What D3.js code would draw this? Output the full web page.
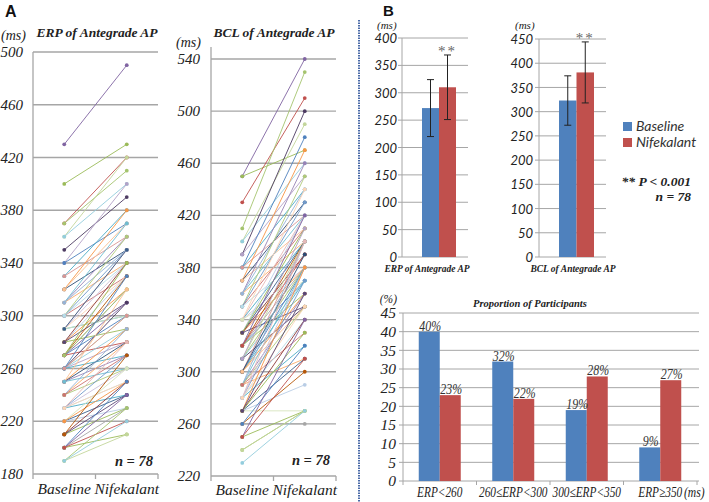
<!DOCTYPE html>
<html><head><meta charset="utf-8">
<script src="https://cdn.jsdelivr.net/npm/d3@7"></script>
<style>
body{margin:0;background:#fff;}
svg{display:block;}
</style></head>
<body>
<script>
// ---------- DATA ----------
const groups = ["Baseline", "Nifekalant"];
const erpTicks = [180, 220, 260, 300, 340, 380, 420, 460, 500];
const bclTicks = [220, 260, 300, 340, 380, 420, 460, 500, 540];
const erpBase = [430,400,370,370,360,360,350,340,340,330,330,320,320,320,310,310,310,310,300,300,300,300,290,290,290,290,290,290,280,280,280,280,280,270,270,270,270,270,270,270,260,260,260,260,260,260,260,250,250,250,250,250,240,240,240,240,230,230,230,230,230,230,220,220,220,220,210,210,210,210,200,200,200,200,200,190,190,190];
const erpNife = [490,430,420,410,420,400,390,400,370,380,360,380,350,370,360,370,340,350,360,330,350,340,350,300,340,330,300,350,330,320,340,290,310,330,320,300,310,340,280,320,300,290,310,280,330,270,300,290,280,320,270,260,280,290,260,270,270,250,280,240,260,250,260,240,230,250,250,230,240,270,230,250,240,210,220,230,210,220];
const bclBase = [450,450,430,410,400,400,390,390,380,380,380,370,370,370,360,360,360,360,350,350,350,350,340,340,340,340,340,330,330,330,330,330,330,320,320,320,320,320,320,310,310,310,310,310,300,300,300,300,300,300,290,290,290,290,290,290,280,280,280,280,280,280,270,270,270,270,270,270,270,260,260,260,250,250,250,240,240,230];
const bclNife = [540,470,510,530,490,460,500,450,480,440,420,470,430,410,460,420,400,440,450,410,430,390,420,400,380,440,370,400,420,380,390,410,350,400,380,370,420,360,390,380,400,370,350,410,380,370,400,360,390,350,360,380,310,400,350,330,370,340,400,320,380,350,270,310,290,380,340,330,360,300,260,320,340,270,310,270,270,270];
const meanTitles = ["ERP of Antegrade AP", "BCL of Antegrade AP"];
const erpMeans = [272, 310];
const erpErr = [52, 59];
const bclMeans = [323, 381];
const bclErr = [51, 63];
const erpBarTicks = [0,50,100,150,200,250,300,350,400];
const bclBarTicks = [0,50,100,150,200,250,300,350,400,450];
const propCats = ["ERP<260", "260≤ERP<300", "300≤ERP<350", "ERP≥350"];
const propBase = [40, 32, 19, 9];
const propNife = [23, 22, 28, 27];
const propTicks = [0,5,10,15,20,25,30,35,40,45];

// ---------- STYLE ----------
const SERIF = '"Liberation Serif","Times New Roman","DejaVu Serif",serif';
const SANS = 'Lato,"Open Sans",sans-serif';
const BLUE = "#4F81BD", RED = "#C0504D";
const palette = ["#8064A2","#9BBB59","#C0504D","#A5C46E","#C3D69B","#93CDDD","#4D3B62","#B3A2C7","#4F81BD","#4BACC6","#D99694","#F79646","#2C4D75","#FAC090","#9983B5","#6FBDD1","#F9AB6B","#95B3D7","#AFC97A","#CD7371","#729ACA","#B7DDE8","#E6B9B8","#4BACC6","#CCC1DA","#FCD5B5","#D7E4BD","#3A5F8B","#B9CDE5","#F79646","#8C3836","#9BBB59","#5B4775","#B65708","#A6A6A6","#4F81BD"];

const W = 709, H = 502;
const svg = d3.select("body").append("svg").attr("width", W).attr("height", H);
const GRID = "#a6a6a6";

function txt(g, x, y, s, o = {}) {
  const t = g.append("text")
    .attr("text-anchor", o.anchor || "start")
    .style("font-family", o.font || SERIF)
    .style("font-style", o.italic === false ? "normal" : "italic")
    .style("font-weight", o.bold ? "bold" : "normal")
    .style("font-size", (o.size || 14) + "px")
    .attr("fill", o.fill || "#222").text(s);
  if (o.sx) t.attr("transform", `translate(${x},${y}) scale(${o.sx},1)`);
  else t.attr("x", x).attr("y", y);
  return t;
}

// ---------- Panel A ----------
function spaghetti(opt) {
  const g = svg.append("g");
  const y = d3.scaleLinear().domain(opt.domain).range(opt.yRange);
  const x = d3.scaleBand().domain(groups).range([opt.x0, opt.x1]);
  const cx = d => x(d) + x.bandwidth() / 2;
  g.selectAll("line.grid").data(opt.ticks.slice(1)).join("line")
    .attr("x1", opt.x0).attr("x2", opt.x1)
    .attr("y1", d => y(d)).attr("y2", d => y(d))
    .attr("stroke", GRID).attr("stroke-width", 1.3);
  g.append("line").attr("x1", opt.x0).attr("x2", opt.x0)
    .attr("y1", opt.axisTop).attr("y2", y(opt.domain[0]))
    .attr("stroke", GRID).attr("stroke-width", 1.3);
  g.append("line").attr("x1", opt.x0).attr("x2", opt.x1)
    .attr("y1", y(opt.domain[0])).attr("y2", y(opt.domain[0]))
    .attr("stroke", GRID).attr("stroke-width", 1.3);
  const bnd = [opt.x0, opt.x0 + x.bandwidth(), opt.x1];
  g.selectAll("line.tk").data(bnd).join("line")
    .attr("x1", d => d).attr("x2", d => d)
    .attr("y1", y(opt.domain[0])).attr("y2", y(opt.domain[0]) + 5)
    .attr("stroke", GRID).attr("stroke-width", 1.3);
  const ax = d3.axisLeft(y).tickValues(opt.ticks).tickSize(0).tickPadding(opt.pad);
  const axg = g.append("g").attr("transform", `translate(${opt.x0},0)`).call(ax);
  axg.attr("font-family", null).attr("font-size", null);
  axg.select(".domain").remove();
  axg.selectAll("text").style("font-family", SERIF).style("font-style", "italic")
    .style("font-size", "15px").attr("fill", "#222").attr("dy", "0.3em");
  groups.forEach(k => txt(g, cx(k), opt.xlabY, k, {anchor: "middle", size: 15.5}));
  const pairs = opt.base.map((b, i) => ({b, n: opt.nife[i], c: palette[i % palette.length]}));
  g.selectAll("line.p").data(pairs).join("line")
    .attr("x1", cx(groups[0])).attr("x2", cx(groups[1]))
    .attr("y1", d => y(d.b)).attr("y2", d => y(d.n))
    .attr("stroke", d => d.c).attr("stroke-width", 0.9);
  g.selectAll("circle.b").data(pairs).join("circle")
    .attr("cx", cx(groups[0])).attr("cy", d => y(d.b)).attr("r", 1.9).attr("fill", d => d.c);
  g.selectAll("circle.n").data(pairs).join("circle")
    .attr("cx", cx(groups[1])).attr("cy", d => y(d.n)).attr("r", 1.9).attr("fill", d => d.c);
  txt(g, opt.titleX, opt.titleY, opt.title, {anchor: "middle", bold: true, size: 13.5});
  txt(g, opt.msX, opt.msY, "(ms)", {size: 14});
  txt(g, opt.nX, opt.nY, "n = 78", {anchor: "end", bold: true, size: 14.5});
}

spaghetti({domain:[180,500], yRange:[474,52], ticks: erpTicks, x0:33, x1:158, axisTop:52, pad:10,
  base: erpBase, nife: erpNife, xlabY: 494, title: meanTitles[0], titleX: 97, titleY: 37,
  msX: 1, msY: 40, nX: 153, nY: 466});
spaghetti({domain:[220,540], yRange:[476,59], ticks: bclTicks, x0:211, x1:336, axisTop:47, pad:11,
  base: bclBase, nife: bclNife, xlabY: 495, title: meanTitles[1], titleX: 274, titleY: 37,
  msX: 176, msY: 47, nX: 330, nY: 465});

txt(svg, 5, 17, "A", {font: "Liberation Sans, Arial, sans-serif", italic: false, bold: true, size: 16, fill: "#111"});
txt(svg, 383, 16, "B", {font: "Liberation Sans, Arial, sans-serif", italic: false, bold: true, size: 15, fill: "#111"});

svg.append("line").attr("x1", 359).attr("x2", 359).attr("y1", 20).attr("y2", 502)
  .attr("stroke", "#4a6aa8").attr("stroke-width", 2).attr("stroke-dasharray", "1.5,1");

// ---------- Panel B top ----------
function meanBars(opt) {
  const g = svg.append("g");
  const y = d3.scaleLinear().domain([0, opt.max]).range([257, opt.top]);
  const x = d3.scaleBand().domain(groups).range([opt.b0, opt.b1]);
  g.selectAll("line.grid").data(opt.ticks.slice(1)).join("line")
    .attr("x1", opt.x0).attr("x2", opt.x1).attr("y1", d => y(d)).attr("y2", d => y(d))
    .attr("stroke", GRID).attr("stroke-width", 1);
  g.append("line").attr("x1", opt.x0).attr("x2", opt.x0).attr("y1", y(opt.max)).attr("y2", y(0))
    .attr("stroke", GRID);
  g.append("line").attr("x1", opt.x0).attr("x2", opt.x1).attr("y1", y(0)).attr("y2", y(0))
    .attr("stroke", GRID);
  g.selectAll("line.tk").data(opt.ticks).join("line")
    .attr("x1", opt.x0 - 4).attr("x2", opt.x0).attr("y1", d => y(d)).attr("y2", d => y(d))
    .attr("stroke", GRID);
  const ax = d3.axisLeft(y).tickValues(opt.ticks).tickSize(0).tickPadding(opt.pad);
  const axg = g.append("g").attr("transform", `translate(${opt.x0},0)`).call(ax);
  axg.attr("font-family", null).attr("font-size", null);
  axg.select(".domain").remove();
  axg.selectAll("text").style("font-family", SANS).style("font-style", "italic")
    .style("font-size", "13px").attr("fill", "#222").attr("dy", "0.35em");
  const data = groups.map((k, i) => ({k, m: opt.means[i], e: opt.err[i], c: i ? RED : BLUE}));
  g.selectAll("rect").data(data).join("rect")
    .attr("x", d => x(d.k)).attr("width", x.bandwidth())
    .attr("y", d => y(d.m)).attr("height", d => y(0) - y(d.m)).attr("fill", d => d.c);
  const cx = d => x(d.k) + x.bandwidth() / 2;
  data.forEach(d => {
    g.append("line").attr("x1", cx(d)).attr("x2", cx(d)).attr("y1", y(d.m - d.e)).attr("y2", y(d.m + d.e))
      .attr("stroke", "#222").attr("stroke-width", 1);
    [d.m - d.e, d.m + d.e].forEach(v => g.append("line").attr("x1", cx(d) - 3.5).attr("x2", cx(d) + 3.5)
      .attr("y1", y(v)).attr("y2", y(v)).attr("stroke", "#222").attr("stroke-width", 1));
  });
  txt(g, cx(data[1]), y(data[1].m + data[1].e) + 1, "**", {anchor: "middle", italic: false, size: 15, fill: "#666"})
    .style("letter-spacing", "2px");
  txt(g, opt.msX, 29, "(ms)", {size: 11});
  txt(g, opt.labX, 272, opt.label, {anchor: "middle", bold: true, size: 9.5});
}
meanBars({max: 400, top: 38, ticks: erpBarTicks, x0: 402, x1: 468, b0: 422, b1: 456, pad: 5,
  means: erpMeans, err: erpErr, msX: 377, labX: 427, label: meanTitles[0]});
meanBars({max: 450, top: 39, ticks: bclBarTicks, x0: 539, x1: 606, b0: 559, b1: 594, pad: 6,
  means: bclMeans, err: bclErr, msX: 515, labX: 573, label: meanTitles[1]});

const leg = svg.append("g");
groups.forEach((k, i) => {
  leg.append("rect").attr("x", 623).attr("y", 122 + i * 16).attr("width", 9).attr("height", 9)
    .attr("fill", i ? RED : BLUE);
  txt(leg, 636, 131 + i * 16, k, {font: SANS, size: 14, fill: "#333"});
});
txt(leg, 691, 186, "** P < 0.001", {anchor: "end", bold: true, size: 13.5});
txt(leg, 691, 201, "n = 78", {anchor: "end", bold: true, size: 13.5});

// ---------- Panel B bottom ----------
(function () {
  const g = svg.append("g");
  const y = d3.scaleLinear().domain([0, 45]).range([481, 313]);
  const x = d3.scaleBand().domain(propCats).range([403, 697]);
  const xi = d3.scaleBand().domain(groups).range([0, 42]);
  const off = (x.bandwidth() - 42) / 2;
  g.selectAll("line.grid").data(propTicks.slice(1)).join("line")
    .attr("x1", 403).attr("x2", 699).attr("y1", d => y(d)).attr("y2", d => y(d))
    .attr("stroke", GRID);
  g.append("line").attr("x1", 403).attr("x2", 403).attr("y1", y(45)).attr("y2", y(0)).attr("stroke", GRID);
  g.append("line").attr("x1", 403).attr("x2", 699).attr("y1", y(0)).attr("y2", y(0)).attr("stroke", GRID);
  g.selectAll("line.tk").data(propTicks).join("line")
    .attr("x1", 399).attr("x2", 403).attr("y1", d => y(d)).attr("y2", d => y(d)).attr("stroke", GRID);
  const bnd = propCats.map(c => x(c)).concat([697]);
  g.selectAll("line.xt").data(bnd).join("line")
    .attr("x1", d => d).attr("x2", d => d).attr("y1", y(0)).attr("y2", y(0) + 4).attr("stroke", GRID);
  const ax = d3.axisLeft(y).tickValues(propTicks).tickSize(0).tickPadding(7);
  const axg = g.append("g").attr("transform", "translate(403,0)").call(ax);
  axg.attr("font-family", null).attr("font-size", null);
  axg.select(".domain").remove();
  axg.selectAll("text").style("font-family", SERIF).style("font-style", "italic")
    .style("font-size", "15.5px").attr("fill", "#222").attr("dy", "0.32em");
  const data = [];
  propCats.forEach((c, i) => {
    data.push({c, k: groups[0], v: propBase[i], col: BLUE});
    data.push({c, k: groups[1], v: propNife[i], col: RED});
  });
  const bx = d => x(d.c) + off + xi(d.k);
  g.selectAll("rect").data(data).join("rect")
    .attr("x", bx).attr("width", xi.bandwidth())
    .attr("y", d => y(d.v)).attr("height", d => y(0) - y(d.v)).attr("fill", d => d.col);
  data.forEach(d => txt(g, bx(d) + xi.bandwidth() / 2 + 1, y(d.v) - 1, d.v + "%",
    {anchor: "middle", size: 14, fill: "#333", sx: 0.85}));
  propCats.forEach(c => txt(g, x(c) + x.bandwidth() / 2, 497, c, {anchor: "middle", size: 14.5, sx: 0.78}));
  txt(g, 684, 497, "(ms)", {size: 14.5, sx: 0.8});
  txt(g, 397, 303, "(%)", {anchor: "end", size: 11.5});
  txt(g, 530, 307, "Proportion of Participants", {anchor: "middle", bold: true, size: 10.5});
})();
</script>
</body></html>
